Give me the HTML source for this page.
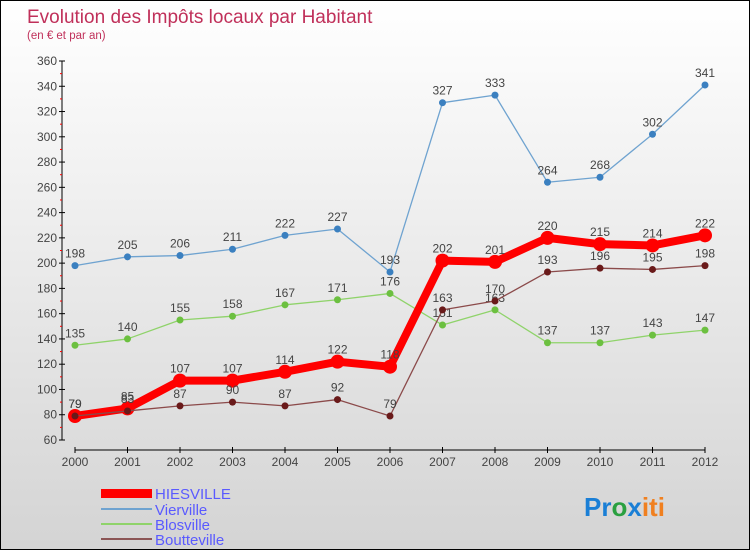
<!DOCTYPE html>
<html><head><meta charset="utf-8"><style>
body{margin:0}
#c{width:748px;height:548px;border:1px solid #000;background:linear-gradient(#fff,#d4d4d4);position:relative;font-family:"Liberation Sans",sans-serif}
</style></head><body>
<div id="c">
<svg id="s" width="748" height="548" style="position:absolute;left:0;top:0">
<text x="26" y="22" font-size="19" fill="#c0305a">Evolution des Impôts locaux par Habitant</text>
<text x="26" y="38" font-size="11.5" fill="#c0305a">(en € et par an)</text>
<g id="ax"></g><g id="ser"></g>
<g>
<rect x="100" y="488" width="51" height="9" fill="#f00"/>
<text x="154" y="498" font-size="15" fill="#5a5aff">HIESVILLE</text>
<line x1="100" y1="508" x2="151" y2="508" stroke="#6fa3d0" stroke-width="2"/>
<text x="154" y="514" font-size="15" fill="#5a5aff">Vierville</text>
<line x1="100" y1="523" x2="151" y2="523" stroke="#8fd36a" stroke-width="2"/>
<text x="154" y="529" font-size="15" fill="#5a5aff">Blosville</text>
<line x1="100" y1="538" x2="151" y2="538" stroke="#8b5555" stroke-width="2"/>
<text x="154" y="544" font-size="15" fill="#5a5aff">Boutteville</text>
</g>
<text x="583" y="515" font-size="26" font-weight="bold"><tspan fill="#1a7fd6">Pr</tspan><tspan fill="#2aa040">o</tspan><tspan fill="#1a7fd6">x</tspan><tspan fill="#f08020">iti</tspan></text>
</svg></div>
<script>
const years=[2000,2001,2002,2003,2004,2005,2006,2007,2008,2009,2010,2011,2012];
const yTicks=[60,80,100,120,140,160,180,200,220,240,260,280,300,320,340,360];
const hiesville=[79,85,107,107,114,122,118,202,201,220,215,214,222];
const vierville=[198,205,206,211,222,227,193,327,333,264,268,302,341];
const blosville=[135,140,155,158,167,171,176,151,163,137,137,143,147];
const boutteville=[79,83,87,90,87,92,79,163,170,193,196,195,198];
const NS="http://www.w3.org/2000/svg";
const x=i=>74+i*52.5;
const y=v=>439-(v-60)*(379/300);
function mk(t,a,p){const e=document.createElementNS(NS,t);for(const k in a)e.setAttribute(k,a[k]);p.appendChild(e);return e;}
const ax=document.getElementById('ax');
let l=mk('line',{x1:61,y1:y(360),x2:61,y2:y(60),stroke:'#000'},ax);


yTicks.forEach((v,i)=>{
 mk('line',{x1:58,x2:64,y1:y(v),y2:y(v),stroke:'#000'},ax);
 if(i<yTicks.length-1)mk('line',{x1:59,x2:61,y1:y(v+10),y2:y(v+10),stroke:'#f00'},ax);
 const t=mk('text',{x:56,y:y(v)+4,'font-size':12,fill:'#444','text-anchor':'end'},ax);t.textContent=v;
 
 
});
l=mk('line',{x1:x(0),y1:449,x2:x(12),y2:449,stroke:'#000'},ax);


years.forEach((yr,i)=>{
 mk('line',{x1:x(i),x2:x(i),y1:446,y2:452,stroke:'#000'},ax);
 const t=mk('text',{x:x(i),y:465,'font-size':12,fill:'#444','text-anchor':'middle'},ax);t.textContent=yr;
 
 
});
const ser=document.getElementById('ser');
function draw(d,name,col,w,r,dot){
 const g=mk('g',{},ser);
 
 
 const p=mk('polyline',{points:d.map((v,i)=>x(i)+','+y(v)).join(' '),fill:'none',stroke:col,'stroke-width':w,'stroke-linejoin':'round'},g);
 
 
 d.forEach((v,i)=>{
  const c=mk('circle',{cx:x(i),cy:y(v),r:r,fill:dot},g);
  
  
  const t=mk('text',{x:x(i),y:y(v)-8,'font-size':12,fill:'#444','text-anchor':'middle'},g);t.textContent=v;
  
  
 });
}
draw(vierville,'vierville','#6fa3d0',1.3,3.5,'#3b80c0');
draw(blosville,'blosville','#8fd36a',1.3,3.5,'#6cc040');
draw(hiesville,'hiesville','#f00',8,7,'#f00');
draw(boutteville,'boutteville','#8b4a4a',1.3,3.5,'#6a1a1a');
</script>
</body></html>
